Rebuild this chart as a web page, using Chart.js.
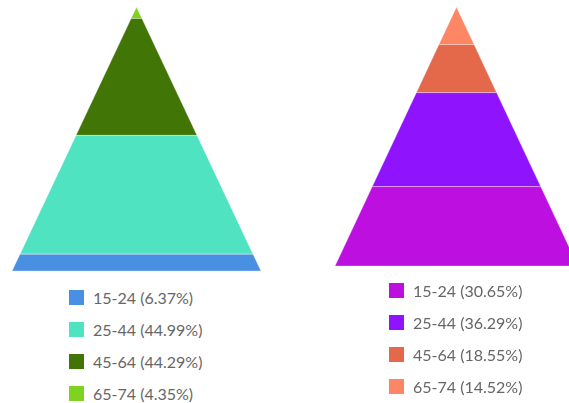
<!DOCTYPE html>
<html lang="en">

<head>
    <meta charset="UTF-8">
    <title>Pyramids</title>
    <script src="https://cdn.jsdelivr.net/npm/chart.js"></script>
    <style>
        body { margin: 0; background: #fff; width: 569px; height: 403px; overflow: hidden; position: relative; }
        .pyramide { position: absolute; top: 0; height: 280px; }
        .legenda { position: absolute; margin: 0; padding: 0; list-style: none; font-family: Lato, sans-serif; font-size: 16px; color: #666; }
        .legenda li { display: flex; align-items: center; height: 32px; white-space: nowrap; }
        .legenda span.caixa { display: inline-block; width: 15px; height: 15px; margin-right: 9px; }
    </style>
</head>

<body>
    <div class="pyramide" style="left:0; width:284px;"><canvas id="grafico1"></canvas></div>
    <div class="pyramide" style="left:284px; width:285px;"><canvas id="grafico2"></canvas></div>
    <ul class="legenda" id="legenda1" style="left:69px; top:281px;"></ul>
    <ul class="legenda" id="legenda2" style="left:389px; top:274px;"></ul>

    <script>
        // faixas etárias, de baixo para cima
        const faixas = ['15-24', '25-44', '45-64', '65-74'];

        const valoresEsquerda = [6.37, 44.99, 44.29, 4.35];
        const coresEsquerda = ['#4a90e2', '#50e3c2', '#417505', '#7ed321'];

        const valoresDireita = [30.65, 36.29, 18.55, 14.52];
        const coresDireita = ['#bd10e0', '#9013fe', '#e4694b', '#fd8664'];

        // legenda em html, gerada pelas labels do proprio chart
        const legendaHtml = {
            id: 'legendaHtml',
            afterUpdate(chart, args, opts) {
                const lista = document.getElementById(opts.containerID);
                lista.innerHTML = '';
                const itens = chart.options.plugins.legend.labels.generateLabels(chart);
                itens.forEach(item => {
                    const li = document.createElement('li');
                    const caixa = document.createElement('span');
                    caixa.className = 'caixa';
                    caixa.style.background = item.fillStyle;
                    li.appendChild(caixa);
                    li.appendChild(document.createTextNode(item.text));
                    lista.appendChild(li);
                });
            }
        };

        // cada faixa vira um trapezio: largura proporcional ao que falta ate o topo
        function montarFaixas(valores, cores) {
            const total = valores.reduce((a, b) => a + b, 0);
            const meiaLargura = y => (total - y) / total;
            let acumulado = 0;
            return valores.map((v, i) => {
                const y0 = acumulado;
                const y1 = acumulado + v;
                acumulado = y1;
                return {
                    label: `${faixas[i]} (${v.toFixed(2)}%)`,
                    data: [
                        {x: -meiaLargura(y0), y: y0},
                        {x: meiaLargura(y0), y: y0},
                        {x: meiaLargura(y1), y: y1},
                        {x: -meiaLargura(y1), y: y1},
                        {x: -meiaLargura(y0), y: y0}
                    ],
                    showLine: true,
                    fill: 'shape',
                    backgroundColor: cores[i],
                    borderColor: 'rgba(255,255,255,0.35)',
                    borderWidth: 1,
                    pointRadius: 0,
                    tension: 0
                };
            });
        }

        function criarPiramide(idCanvas, idLegenda, valores, cores, largura, altura, topoX, topoY, baseY, meiaBase) {
            const total = valores.reduce((a, b) => a + b, 0);
            const pxPorUnidade = (baseY - topoY) / total;
            const maxY = total + topoY / pxPorUnidade;

            return new Chart(document.getElementById(idCanvas), {
                type: 'scatter',
                data: { datasets: montarFaixas(valores, cores) },
                options: {
                    responsive: true,
                    maintainAspectRatio: false,
                    animation: false,
                    events: [],
                    layout: { padding: 0 },
                    scales: {
                        x: { type: 'linear', display: false, min: -topoX / meiaBase, max: (largura - topoX) / meiaBase },
                        y: { type: 'linear', display: false, min: maxY - altura / pxPorUnidade, max: maxY }
                    },
                    plugins: {
                        legend: { display: false },
                        tooltip: { enabled: false },
                        legendaHtml: { containerID: idLegenda }
                    }
                },
                plugins: [legendaHtml]
            });
        }

        criarPiramide('grafico1', 'legenda1', valoresEsquerda, coresEsquerda, 284, 280, 136.5, 7, 271, 124.5);
        criarPiramide('grafico2', 'legenda2', valoresDireita, coresDireita, 285, 280, 172.5, 7, 266, 121.5);
    </script>
</body>

</html>
